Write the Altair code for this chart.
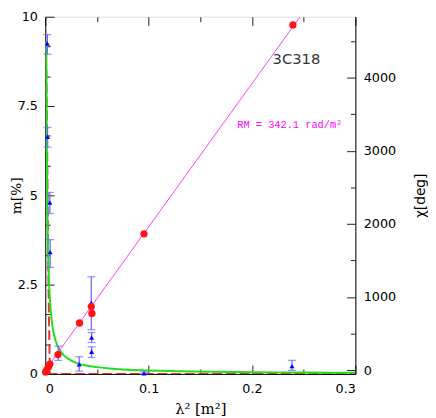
import altair as alt
import pandas as pd

# ---------------- data ----------------
green_l2 = [0.001, 0.0012, 0.0015, 0.002, 0.0025, 0.003, 0.004, 0.005, 0.0065, 0.008,
            0.01, 0.013, 0.017, 0.022, 0.03, 0.04, 0.05, 0.065, 0.08, 0.1,
            0.13, 0.16, 0.2, 0.25, 0.3]
green_m = [9.3, 7.8, 6.2, 4.7, 3.7, 3.1, 2.35, 1.87, 1.43, 1.16,
           0.93, 0.72, 0.55, 0.43, 0.31, 0.235, 0.19, 0.145, 0.118, 0.095,
           0.073, 0.06, 0.048, 0.038, 0.032]

red_l2 = [0.0, 0.001, 0.0018, 0.0024, 0.003, 0.0036, 0.0041, 0.0045, 0.3]
red_m = [9.3, 8.5, 6.5, 4.5, 2.8, 1.5, 0.6, 0.0, 0.0]

tri_l2 = [0.002, 0.0022, 0.0044, 0.0047, 0.0125, 0.0328, 0.0445, 0.0448, 0.0448, 0.0955, 0.2387]
tri_m = [9.25, 6.64, 4.80, 3.41, 0.59, 0.27, 1.99, 1.02, 0.62, 0.02, 0.22]
tri_lo = [8.95, 6.35, 4.49, 2.98, 0.38, 0.08, 1.24, 0.88, 0.46, 0.0, 0.10]
tri_hi = [9.50, 6.90, 5.08, 3.76, 0.78, 0.48, 2.72, 1.16, 0.76, 0.05, 0.38]

chi_l2 = [0.0003, 0.0015, 0.003, 0.0045, 0.0123, 0.0331, 0.0445, 0.0451, 0.0955, 0.2396]
chi_deg = [-25, 10, 45, 85, 214, 646, 870, 777, 1865, 4718]

fit_l2 = [0.0, 0.2465]
fit_deg = [0, 4830]

x_major = [0, 0.1, 0.2, 0.3]
x_minor = [0.05, 0.15, 0.25]
m_major = [0, 2.5, 5, 7.5, 10]
m_minor = [0.8333, 1.6667, 3.3333, 4.1667, 5.8333, 6.6667, 8.3333, 9.1667]
c_major = [0, 1000, 2000, 3000, 4000]
c_minor = [500, 1500, 2500, 3500, 4500]

labels = pd.DataFrame({"l2": [0.243, 0.2365], "deg": [4250, 3346],
                       "txt": ["3C318", "RM = 342.1 rad/m\u00b2"]})

df_green = pd.DataFrame({"l2": green_l2, "m": green_m})
df_red = pd.DataFrame({"l2": red_l2, "m": red_m})
df_tri = pd.DataFrame({"l2": tri_l2, "m": tri_m, "lo": tri_lo, "hi": tri_hi})
df_chi = pd.DataFrame({"l2": chi_l2, "deg": chi_deg})
df_fit = pd.DataFrame({"l2": fit_l2, "deg": fit_deg})

# ---------------- scales & axes ----------------
XS = alt.Scale(domain=[0, 0.3], nice=False, zero=False)
YM = alt.Scale(domain=[0, 10], nice=False, zero=False)
YC = alt.Scale(domain=[-50, 4830], nice=False, zero=False)

LF = "DejaVu Sans"


def tick_axis(orient, values, size):
    return alt.Axis(orient=orient, values=values, tickSize=size, offset=-size,
                    labels=False, domain=False, grid=False, title=None,
                    tickColor="#222222", tickWidth=1)


x_lab_axis = alt.Axis(orient="bottom", values=x_major, format=".1~f", ticks=False,
                      labelPadding=9, labelFont=LF, labelFontSize=13, labelColor="black",
                      domainColor="black", grid=False, title="\u03bb\u00b2 [m\u00b2]",
                      titleFont="DejaVu Serif", titleFontSize=15, titleFontWeight="normal",
                      titleColor="black", titleBaseline="alphabetic", titleY=40)
m_lab_axis = alt.Axis(orient="left", values=m_major, format=".1~f", ticks=False,
                      labelPadding=8, labelFont=LF, labelFontSize=13, labelColor="black",
                      domainColor="black", grid=False, title="m[%]",
                      titleFont="DejaVu Serif", titleFontSize=14, titleFontWeight="normal",
                      titleColor="black", titleBaseline="alphabetic", titleX=-25)
c_lab_axis = alt.Axis(orient="right", values=c_major, format="d", ticks=False,
                      labelPadding=8, labelFont=LF, labelFontSize=13, labelColor="black",
                      domainColor="black", grid=False, title="\u03c7[deg]",
                      titleFont=LF, titleFontSize=14, titleFontWeight="normal",
                      titleColor="black", titleBaseline="alphabetic", titleAngle=270,
                      titleX=70)

# ---------------- layers ----------------
red_curve = alt.Chart(df_red).mark_line(color="#e8302c", strokeWidth=2,
                                         strokeDash=[10, 4], clip=True).encode(
    x=alt.X("l2:Q", scale=XS, axis=tick_axis("bottom", x_major, 9)),
    y=alt.Y("m:Q", scale=YM, axis=tick_axis("left", m_major, 9)),
)

green_curve = alt.Chart(df_green).mark_line(color="#1ee01e", strokeWidth=2,
                                             interpolate="monotone", clip=True).encode(
    x=alt.X("l2:Q", scale=XS, axis=x_lab_axis),
    y=alt.Y("m:Q", scale=YM, axis=m_lab_axis),
)

fit_line = alt.Chart(df_fit).mark_line(color="#ff3cff", strokeWidth=1, clip=True).encode(
    x=alt.X("l2:Q", scale=XS, axis=tick_axis("bottom", x_minor, 5)),
    y=alt.Y("deg:Q", scale=YC, axis=c_lab_axis),
)

err_rules = alt.Chart(df_tri).mark_rule(color="#6a6aff", strokeWidth=1.3).encode(
    x=alt.X("l2:Q", scale=XS, axis=tick_axis("top", x_major, 9)),
    y=alt.Y("lo:Q", scale=YM, axis=tick_axis("left", m_minor, 5)),
    y2="hi:Q",
)

cap_lo = alt.Chart(df_tri).mark_tick(color="#6a6aff", orient="horizontal",
                                     size=8, thickness=1.3).encode(
    x=alt.X("l2:Q", scale=XS, axis=tick_axis("top", x_minor, 5)),
    y=alt.Y("lo:Q", scale=YM, axis=None),
)

cap_hi = alt.Chart(df_tri).mark_tick(color="#6a6aff", orient="horizontal",
                                     size=8, thickness=1.3).encode(
    x=alt.X("l2:Q", scale=XS, axis=None),
    y=alt.Y("hi:Q", scale=YM, axis=None),
)

triangles = alt.Chart(df_tri).mark_point(shape="triangle-up", filled=True, size=26,
                                         color="#0000ff", opacity=1).encode(
    x=alt.X("l2:Q", scale=XS, axis=None),
    y=alt.Y("m:Q", scale=YM, axis=None),
)

red_pts = alt.Chart(df_chi).mark_circle(size=55, color="#ff1414", opacity=1).encode(
    x=alt.X("l2:Q", scale=XS, axis=None),
    y=alt.Y("deg:Q", scale=YC, axis=tick_axis("right", c_major, 9)),
)

name_txt = alt.Chart(labels).transform_filter(alt.datum.txt == "3C318").mark_text(
    font=LF, fontSize=15, color="#333333").encode(
    x=alt.X("l2:Q", scale=XS, axis=None),
    y=alt.Y("deg:Q", scale=YC, axis=tick_axis("right", c_minor, 5)),
    text="txt:N",
)

rm_txt = alt.Chart(labels).transform_filter(alt.datum.txt != "3C318").mark_text(
    font="Liberation Mono", fontSize=10.5, color="#ff00ff").encode(
    x=alt.X("l2:Q", scale=XS, axis=None),
    y=alt.Y("deg:Q", scale=YC, axis=None),
    text="txt:N",
)

chart = alt.layer(
    red_curve, green_curve, fit_line, err_rules, cap_lo, cap_hi, triangles,
    red_pts, name_txt, rm_txt,
).resolve_scale(y="independent").resolve_axis(x="independent", y="independent").properties(
    width=316, height=364,
    autosize=alt.AutoSizeParams(type="none"),
    padding={"left": 38, "top": 5, "right": 74, "bottom": 41},
).configure_view(stroke="black", strokeWidth=1).configure(background="white")

chart.save("out.html", embed_options={"renderer": "svg", "actions": False})
